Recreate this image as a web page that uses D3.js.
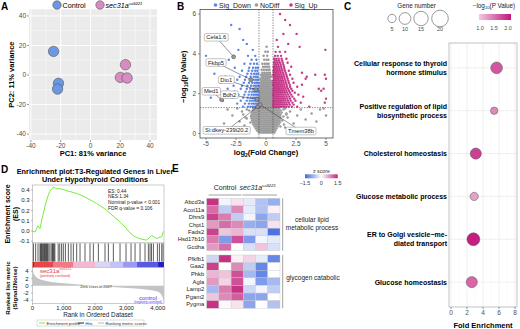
<!DOCTYPE html>
<html><head><meta charset="utf-8">
<script src="https://cdn.jsdelivr.net/npm/d3@7"></script>
<style>body{margin:0;background:#fff}svg{display:block}text{font-family:"Liberation Sans",Arial,sans-serif}</style>
</head><body><svg id="c" width="520" height="329"></svg>
<script>
// ---------------- DATA ----------------
// A: PCA
const pcaControl = [[-24.8,16],[-21.5,-5.6],[-22.1,-9.5]];
const pcaMutant = [[23.5,7],[20.1,-1.6],[24.6,-2]];
const pcaTicks = [-40,-20,0,20,40];
const pcaMinor = [-30,-10,10,30];

// B: volcano (rows: [-log10 p, [log2FC values]])
const grayRows = [
[0.05,[-0.6,-0.45,-0.3,-0.18,-0.06,0.05,0.16,0.28,0.4,0.55,0.7]],
[0.15,[-0.75,-0.6,-0.47,-0.35,-0.22,-0.1,0.02,0.14,0.25,0.37,0.5,0.63,0.78]],
[0.25,[-0.85,-0.7,-0.56,-0.42,-0.3,-0.17,-0.05,0.08,0.2,0.32,0.45,0.58,0.72,0.88]],
[0.35,[-0.95,-0.8,-0.66,-0.52,-0.38,-0.25,-0.12,0.0,0.12,0.25,0.38,0.52,0.66,0.8,0.95,1.2]],
[0.45,[-1.05,-0.9,-0.75,-0.6,-0.46,-0.32,-0.18,-0.05,0.08,0.2,0.33,0.47,0.6,0.75,0.9,1.05,1.5]],
[0.55,[-1.3,-1.1,-0.95,-0.8,-0.66,-0.52,-0.38,-0.24,-0.1,0.03,0.16,0.3,0.43,0.57,0.72,0.86,1.0,1.15]],
[0.65,[-1.15,-1.0,-0.85,-0.7,-0.56,-0.42,-0.28,-0.14,0.0,0.13,0.27,0.4,0.54,0.68,0.82,0.97,1.12,1.35]],
[0.75,[-1.6,-1.2,-1.05,-0.9,-0.75,-0.6,-0.46,-0.32,-0.18,-0.04,0.1,0.23,0.37,0.5,0.64,0.78,0.92,1.07,1.22]],
[0.85,[-1.25,-1.1,-0.95,-0.8,-0.65,-0.5,-0.36,-0.22,-0.08,0.06,0.2,0.33,0.47,0.6,0.74,0.88,1.02,1.17,1.45]],
[0.95,[-1.9,-1.2,-1.05,-0.9,-0.76,-0.62,-0.48,-0.34,-0.2,-0.06,0.08,0.22,0.36,0.49,0.63,0.77,0.91,1.05,1.2,1.7]],
[1.05,[-1.15,-1.0,-0.86,-0.72,-0.58,-0.44,-0.3,-0.16,-0.02,0.12,0.26,0.4,0.54,0.68,0.82,0.96,1.1,1.3]],
[1.15,[-1.4,-1.1,-0.95,-0.8,-0.66,-0.52,-0.38,-0.24,-0.1,0.04,0.18,0.32,0.46,0.6,0.74,0.88,1.02,1.2]],
[1.25,[-1.05,-0.9,-0.75,-0.6,-0.46,-0.32,-0.18,-0.04,0.1,0.24,0.38,0.52,0.66,0.8,0.95,1.1,1.6]],
[1.35,[-0.55,-0.42,-0.3,-0.18,-0.06,0.06,0.18,0.3,0.42,0.54]],
[1.45,[-0.5,-0.38,-0.26,-0.14,-0.02,0.1,0.22,0.34,0.46,0.57]],
[1.55,[-0.56,-0.44,-0.32,-0.2,-0.08,0.04,0.16,0.28,0.4,0.52]],
[1.65,[-0.52,-0.4,-0.28,-0.16,-0.04,0.08,0.2,0.32,0.44,0.55]],
[1.75,[-0.55,-0.42,-0.3,-0.18,-0.06,0.06,0.18,0.3,0.42,0.54]],
[1.85,[-0.5,-0.37,-0.25,-0.13,0.0,0.12,0.24,0.36,0.48]],
[1.95,[-0.54,-0.42,-0.3,-0.18,-0.06,0.06,0.18,0.3,0.42,0.55]],
[2.05,[-0.48,-0.36,-0.24,-0.12,0.0,0.12,0.24,0.36,0.5]],
[2.15,[-0.55,-0.4,-0.28,-0.16,-0.04,0.08,0.2,0.32,0.45]],
[2.25,[-0.46,-0.33,-0.2,-0.08,0.05,0.18,0.3,0.43,0.56]],
[2.35,[-0.52,-0.38,-0.25,-0.12,0.0,0.13,0.26,0.4]],
[2.45,[-0.44,-0.3,-0.17,-0.04,0.1,0.23,0.37,0.52]],
[2.55,[-0.5,-0.35,-0.22,-0.08,0.05,0.2,0.34,0.48]],
[2.65,[-0.4,-0.26,-0.12,0.02,0.16,0.3,0.45]],
[2.75,[-0.46,-0.3,-0.15,0.0,0.15,0.3]],
[2.85,[-0.35,-0.2,-0.05,0.1,0.25,0.42]],
[2.95,[-0.42,-0.25,-0.1,0.05,0.2,0.36]],
[3.05,[-0.3,-0.14,0.02,0.18,0.33]],
[3.2,[-0.36,-0.18,0.0,0.16,0.3]],
[3.35,[-0.25,-0.08,0.1,0.26]],
[3.5,[-0.3,-0.1,0.08,0.22]],
[3.7,[-0.15,0.05,0.2]],
[3.9,[-0.2,0.1]],
[4.1,[-0.05,0.15]],
[4.35,[0.05]]];
const grayExtra = [[-2.5,0.3],[-2.2,0.6],[-2.0,1.1],[-1.8,0.4],[-1.6,1.2],[-1.5,0.2],[-2.8,0.9],[-3.2,1.2],[-3.5,0.5],[-2.4,1.25],[1.6,0.3],[1.8,0.8],[2.0,1.1],[2.3,0.5],[2.6,0.9],[2.9,1.2],[3.3,0.7],[3.8,1.0],[4.5,1.2],[4.2,0.6],[5.0,0.9],[1.45,1.2],[1.7,1.0],[2.2,0.2],[-1.7,0.8],[4.8,1.25]];
const downRows = [
[1.35,[-0.62,-0.72,-0.83,-0.95,-1.1,-1.28,-1.5,-1.9]],
[1.5,[-0.6,-0.68,-0.78,-0.9,-1.03,-1.2,-1.42,-1.75,-2.4]],
[1.65,[-0.63,-0.73,-0.85,-0.98,-1.15,-1.35,-1.6,-2.1,-3.6]],
[1.8,[-0.61,-0.7,-0.8,-0.93,-1.08,-1.27,-1.52,-1.9,-2.8,-4.6]],
[1.95,[-0.65,-0.76,-0.88,-1.02,-1.2,-1.45,-1.8,-2.3]],
[2.1,[-0.62,-0.72,-0.84,-0.98,-1.15,-1.38,-1.7,-2.6,-4.0]],
[2.25,[-0.66,-0.78,-0.92,-1.08,-1.3,-1.6,-2.1,-3.2]],
[2.4,[-0.63,-0.74,-0.87,-1.03,-1.25,-1.55,-2.0,-2.7]],
[2.55,[-0.68,-0.8,-0.95,-1.15,-1.42,-1.85,-3.8]],
[2.7,[-0.64,-0.76,-0.9,-1.1,-1.35,-1.75,-2.4]],
[2.85,[-0.7,-0.84,-1.02,-1.28,-1.65,-2.2,-3.4]],
[3.0,[-0.66,-0.8,-0.98,-1.22,-1.55,-4.3]],
[3.15,[-0.72,-0.9,-1.15,-1.45,-2.0]],
[3.3,[-0.68,-0.85,-1.08,-1.4,-2.6]],
[3.5,[-0.75,-1.0,-1.3,-1.8]],
[3.7,[-0.8,-1.2,-3.1]],
[3.9,[-0.9,-1.5,-5.0]],
[4.2,[-1.1,-2.3]],
[4.5,[-1.6]],
[4.7,[-1.9]],
[5.25,[-2.2]],
[5.45,[-2.9]]];
const upRows = [
[1.35,[0.62,0.72,0.83,0.95,1.07,1.2,1.34,1.5,1.68,1.88,2.15,2.6,3.6]],
[1.45,[0.6,0.68,0.78,0.9,1.01,1.13,1.26,1.41,1.57,1.76,1.98,2.3]],
[1.55,[0.64,0.74,0.86,0.98,1.1,1.23,1.37,1.53,1.71,1.92,2.2,2.9,4.9]],
[1.65,[0.61,0.7,0.8,0.92,1.04,1.17,1.31,1.46,1.63,1.83,2.06,2.45]],
[1.75,[0.65,0.76,0.88,1.0,1.13,1.27,1.42,1.59,1.78,2.0,2.35,5.0]],
[1.85,[0.62,0.72,0.83,0.95,1.08,1.22,1.37,1.53,1.72,1.94,2.2,3.1]],
[1.95,[0.6,0.69,0.79,0.9,1.02,1.15,1.3,1.46,1.64,1.85,2.1,2.7]],
[2.05,[0.64,0.74,0.86,0.98,1.11,1.25,1.4,1.57,1.77,2.0,2.4]],
[2.15,[0.61,0.71,0.82,0.94,1.07,1.21,1.36,1.52,1.7,1.92,2.2,4.6]],
[2.25,[0.65,0.76,0.88,1.0,1.14,1.29,1.45,1.63,1.84,2.1,4.4,4.8]],
[2.35,[0.62,0.72,0.84,0.96,1.09,1.23,1.38,1.55,1.75,2.0,2.6]],
[2.45,[0.6,0.7,0.81,0.93,1.06,1.2,1.35,1.52,1.72,1.98,3.0]],
[2.55,[0.64,0.75,0.87,1.0,1.14,1.3,1.47,1.67,1.9,2.3]],
[2.65,[0.61,0.71,0.83,0.96,1.1,1.25,1.42,1.62,1.86]],
[2.75,[0.66,0.78,0.91,1.05,1.2,1.37,1.56,1.8,2.2,3.3,5.0]],
[2.85,[0.63,0.74,0.87,1.01,1.16,1.33,1.52,1.75,3.4]],
[2.95,[0.6,0.7,0.82,0.96,1.11,1.28,1.47,1.7,2.0,4.1,4.9]],
[3.05,[0.65,0.77,0.9,1.05,1.22,1.41,1.64,3.0]],
[3.15,[0.62,0.73,0.86,1.0,1.17,1.36,1.58,1.9]],
[3.25,[0.67,0.8,0.95,1.12,1.31,1.53]],
[3.35,[0.63,0.75,0.9,1.07,1.26,1.5,2.1]],
[3.45,[0.7,0.85,1.02,1.22,1.45]],
[3.55,[0.66,0.8,0.97,1.17,1.4,1.8]],
[3.65,[0.72,0.9,1.1,1.35]],
[3.75,[0.68,0.85,1.05,1.3,1.7]],
[3.9,[0.75,0.98,1.25]],
[4.1,[0.8,1.15,1.6]],
[4.2,[4.95]],
[4.35,[1.0,2.8]],
[4.5,[1.85]],
[4.7,[0.9]],
[5.0,[1.45,2.55]],
[5.45,[2.0]],
[5.7,[1.6]],
[6.0,[1.17]]];
const volcLabels = [
 {gene:"Cela1.6", fc:-2.7, p:3.85},
 {gene:"Fkbp5", fc:-1.25, p:2.7},
 {gene:"Dio1", fc:-0.85, p:2.2},
 {gene:"Med1", fc:-3.7, p:1.7},
 {gene:"Bdh2", fc:-0.75, p:1.72},
 {gene:"Si:dkey-239i20.2", fc:-0.68, p:1.35},
 {gene:"Tmem38b", fc:-0.5, p:1.45}];
const volcXTicks = [-5,-2.5,0,2.5,5];
const volcYTicks = [0,2,4,6];
const fcCut = 0.585, pCut = 1.3;

// C: GO enrichment
const goTerms = ["Cellular response to thyroid hormone stimulus","Positive regulation of lipid biosynthetic process","Cholesterol homeostasis","Glucose metabolic process","ER to Golgi vesicle-mediated transport","Glucose homeostasis"];
const goLines = [["Cellular response to thyroid","hormone stimulus"],["Positive regulation of lipid","biosynthetic process"],["Cholesterol homeostasis"],["Glucose metabolic process"],["ER to Golgi vesicle\u2212me-","diated transport"],["Glucose homeostasis"]];
const foldEnrich = [5.7,5.4,3.1,2.9,2.8,2.6];
const geneCount = [10,4,9,5,12,9];
const negLogP = [1.7,1.4,1.85,1.25,2.05,1.6];
const sizeLegend = [5,10,15,20];
const pLegendTicks = [1.0,1.5,2.0];
const feTicks = [0,2,4,6,8];

// D: GSEA
const esCurve = [[0,0],[80,-0.01],[176,0.05],[240,0.024],[294,0.107],[351,0.176],[400,0.244],[454,0.302],[505,0.351],[559,0.39],[613,0.41],[665,0.43],[719,0.42],[783,0.41],[847,0.415],[911,0.41],[984,0.405],[1070,0.395],[1198,0.385],[1412,0.366],[1677,0.332],[2051,0.268],[2316,0.215],[2540,0.156],[2796,0.088],[2987,0.03],[3115,-0.02],[3243,-0.05],[3380,-0.07],[3530,-0.083],[3649,-0.088],[3722,-0.068],[3808,-0.044],[3882,-0.059],[3969,-0.073],[4042,-0.063],[4128,-0.056],[4180,-0.007],[4200,0]];
const hitRanks = [30,100,176,240,262,285,310,335,360,385,410,435,454,480,520,560,615,640,665,690,715,820,870,930,985,1050,1145,1230,1305,1411,1518,1677,1837,1944,2104,2316,2423,2583,2796,2987,3147,3275,3435,3594,3700,3754,3800,3861,3989,4053,4128,4170];
const rankMetric = [[0,5],[15,4.2],[40,3.4],[80,2.8],[150,2.2],[250,1.8],[400,1.4],[600,1.1],[900,0.8],[1300,0.5],[1700,0.25],[2027,0],[2400,-0.25],[2900,-0.5],[3400,-0.8],[3800,-1.2],[4000,-1.6],[4100,-2.2],[4150,-3],[4185,-4],[4200,-5]];
const colorBarBreaks = [0,48,655,1294,1997,2476,2892,3339,4010,4200];
const colorBarColors = ["#B81414","#E5474B","#EF7B86","#F2B9D3","#DCD5F1","#C3C3F4","#9A9AF0","#5959E4","#2020C4"];
const esTicks = [-0.1,0.0,0.1,0.2,0.3,0.4];
const rmTicks = [-4,-2,0,2,4];
const rankTicks = [0,1000,2000,3000,4000];
const nRanks = 4200, zeroCross = 2027;
const gseaStats = ["ES: 0.44","NES:1.34","Nominal p-value < 0.001","FDR q-value = 0.106"];

// E: heatmap
const heatGenes1 = ["Abcd3a","Acot11a","Dhrs9","Chpt1","Fads2","Hsd17b10","Gcdha"];
const heatGenes2 = ["Pfkfb1","Gaa2","Phkb","Agla","Lamp2","Pgam2","Pygma"];
const heatZ1 = [
[1.4,-0.1,0.2,-0.2,-0.6,-0.8],
[1.0,-0.5,0.8,-0.2,-0.6,0.1],
[1.3,0.9,-0.5,-0.1,-0.9,-0.5],
[0.7,1.0,0.8,-0.8,-0.9,0.2],
[1.3,0.4,0.5,-0.3,-0.3,-1.4],
[0.9,-1.0,1.2,-1.0,-0.1,-0.2],
[0.7,1.0,0.0,-0.3,0.4,-0.3]];
const heatZ2 = [
[-0.4,1.4,0.1,0.3,-0.2,-1.2],
[1.3,0.0,0.8,-0.5,-1.2,0.0],
[0.5,0.4,1.2,-0.7,-1.2,0.0],
[0.7,0.3,1.2,-0.1,-1.0,-0.7],
[-0.7,0.9,1.4,-0.4,-0.1,-0.5],
[0.4,0.8,1.1,-0.9,-0.9,0.0],
[1.4,0.05,0.2,-0.9,0.0,-0.6]];
const heatSamples = [0,1,2,3,4,5];
const zTicks = [-1.5,0,1.5];

// ---------------- DRAW ----------------
const svg = d3.select('#c');
function T(g,x,y,s,o){const t=g.append('text').attr('x',x).attr('y',y).text(s);if(o)for(const k in o)t.attr(k,o[k]);return t;}
const AX = '#4d4d4d';
const allelSup = 'sa9221';

// Panel letters
[['A',1,10],['B',177,10],['C',344,10],['D',1,173],['E',172,172]].forEach(d=>T(svg,d[1],d[2],d[0],{'font-size':10,'font-weight':'bold'}));

// ===== A =====
{
const g = svg.append('g');
const x = d3.scaleLinear().domain([-41.3,44.7]).range([29,157]);
const y = d3.scaleLinear().domain([-44,44.5]).range([140,9.3]);
const [x0,x1]=x.range(), [y0,y1]=y.range();
g.append('rect').attr('x',x0).attr('y',y1).attr('width',x1-x0).attr('height',y0-y1).attr('fill','#ebebeb');
g.selectAll('.vn').data(pcaMinor).join('line').attr('x1',x).attr('x2',x).attr('y1',y0).attr('y2',y1).attr('stroke','#fff').attr('stroke-width',0.4);
g.selectAll('.hn').data(pcaMinor).join('line').attr('y1',y).attr('y2',y).attr('x1',x0).attr('x2',x1).attr('stroke','#fff').attr('stroke-width',0.4);
g.selectAll('.vm').data(pcaTicks).join('line').attr('x1',x).attr('x2',x).attr('y1',y0).attr('y2',y1).attr('stroke','#fff').attr('stroke-width',0.9);
g.selectAll('.hm').data(pcaTicks).join('line').attr('y1',y).attr('y2',y).attr('x1',x0).attr('x2',x1).attr('stroke','#fff').attr('stroke-width',0.9);
pcaTicks.forEach(t=>{
  g.append('line').attr('x1',x(t)).attr('x2',x(t)).attr('y1',y0).attr('y2',y0+2).attr('stroke','#333').attr('stroke-width',0.5);
  T(g,x(t),y0+8,t,{'font-size':6.5,'fill':AX,'text-anchor':'middle'});
  g.append('line').attr('y1',y(t)).attr('y2',y(t)).attr('x1',x0-2).attr('x2',x0).attr('stroke','#333').attr('stroke-width',0.5);
  T(g,x0-3,y(t)+2.3,t,{'font-size':6.5,'fill':AX,'text-anchor':'end'});
});
T(g,(x0+x1)/2,156,'PC1: 81% variance',{'font-size':7.5,'font-weight':'bold','text-anchor':'middle'});
T(g,0,0,'PC2: 11% variance',{'font-size':7.5,'font-weight':'bold','text-anchor':'middle','transform':`translate(14,${(y0+y1)/2}) rotate(-90)`});
g.selectAll('.pc').data(pcaControl).join('circle').attr('cx',d=>x(d[0])).attr('cy',d=>y(d[1])).attr('r',5.2).attr('fill','#6A97E6').attr('stroke','#555').attr('stroke-width',0.6);
g.selectAll('.pm').data(pcaMutant).join('circle').attr('cx',d=>x(d[0])).attr('cy',d=>y(d[1])).attr('r',5.2).attr('fill','#D98CC3').attr('stroke','#555').attr('stroke-width',0.6);
g.append('circle').attr('cx',57).attr('cy',5).attr('r',4.2).attr('fill','#6A97E6').attr('stroke','#555').attr('stroke-width',0.6);
T(g,62.5,7.7,'Control',{'font-size':7.2});
g.append('circle').attr('cx',100).attr('cy',5).attr('r',4.2).attr('fill','#D98CC3').attr('stroke','#555').attr('stroke-width',0.6);
const t=T(g,105.5,7.7,'sec31a',{'font-size':7.2,'font-style':'italic'});
t.append('tspan').attr('dy',-2.8).attr('font-size',4.2).text(allelSup);
}

// ===== B =====
{
const g = svg.append('g');
const x = d3.scaleLinear().domain([-5.5,5.583]).range([200,333]);
const y = d3.scaleLinear().domain([-0.226,6.226]).range([138,9.5]);
const [x0,x1]=x.range(), [y0,y1]=y.range();
const flat = rows=>rows.flatMap(([p,xs])=>xs.map(f=>[f,p]));
const gray = flat(grayRows).concat(grayExtra.map(d=>[d[0],d[1]]));
const down = flat(downRows), up = flat(upRows);
g.selectAll('.g').data(gray).join('circle').attr('cx',d=>x(d[0])).attr('cy',d=>y(d[1])).attr('r',1.25).attr('fill','#9b9b9b');
g.selectAll('.d').data(down).join('circle').attr('cx',d=>x(d[0])).attr('cy',d=>y(d[1])).attr('r',1.2).attr('fill','#5B84E4');
g.selectAll('.u').data(up).join('circle').attr('cx',d=>x(d[0])).attr('cy',d=>y(d[1])).attr('r',1.2).attr('fill','#C43A88');
[-fcCut,fcCut].forEach(v=>g.append('line').attr('x1',x(v)).attr('x2',x(v)).attr('y1',y0).attr('y2',y1).attr('stroke','#333').attr('stroke-width',0.6).attr('stroke-dasharray','1.3,1.3'));
g.append('line').attr('x1',x0).attr('x2',x1).attr('y1',y(pCut)).attr('y2',y(pCut)).attr('stroke','#333').attr('stroke-width',0.6).attr('stroke-dasharray','1.3,1.3');
// labels
const boxPos = [[216.3,37.3],[216,62.5],[226.3,79.7],[211.3,91.3],[229.5,94.7],[226.7,130.3],[301,131]];
volcLabels.forEach((d,i)=>{
  g.append('line').attr('x1',boxPos[i][0]).attr('y1',boxPos[i][1]).attr('x2',x(d.fc)).attr('y2',y(d.p)).attr('stroke','#333').attr('stroke-width',0.5);
});
volcLabels.forEach((d,i)=>{
  g.append('circle').attr('cx',x(d.fc)).attr('cy',y(d.p)).attr('r',2).attr('fill','#999').attr('stroke','#444').attr('stroke-width',0.5);
});
volcLabels.forEach((d,i)=>{
  const r = g.append('rect');
  const t = T(g,boxPos[i][0],boxPos[i][1]+2,d.gene,{'font-size':5.8,'text-anchor':'middle','fill':'#222'});
  const w = t.node().getComputedTextLength();
  r.attr('x',boxPos[i][0]-w/2-2).attr('y',boxPos[i][1]-3.8).attr('width',w+4).attr('height',7.6).attr('rx',1.5).attr('fill','#fff').attr('stroke','#888').attr('stroke-width',0.5);
});
g.append('rect').attr('x',x0).attr('y',y1).attr('width',x1-x0).attr('height',y0-y1).attr('fill','none').attr('stroke','#333').attr('stroke-width',0.7);
volcXTicks.forEach(t=>{
  g.append('line').attr('x1',x(t)).attr('x2',x(t)).attr('y1',y0).attr('y2',y0+2).attr('stroke','#333').attr('stroke-width',0.5);
  T(g,x(t),y0+8,t,{'font-size':6.5,'fill':AX,'text-anchor':'middle'});
});
volcYTicks.forEach(t=>{
  g.append('line').attr('y1',y(t)).attr('y2',y(t)).attr('x1',x0-2).attr('x2',x0).attr('stroke','#333').attr('stroke-width',0.5);
  T(g,x0-4,y(t)+2.3,t,{'font-size':6.5,'fill':AX,'text-anchor':'end'});
});
const xt=T(g,x(0),155,'log',{'font-size':7.5,'font-weight':'bold','text-anchor':'middle'});
xt.append('tspan').attr('dy',2).attr('font-size',5).text('2');
xt.append('tspan').attr('dy',-2).text('(Fold Change)');
const yt=T(g,0,0,'\u2212log',{'font-size':7.5,'font-weight':'bold','text-anchor':'middle','transform':`translate(186,${(y0+y1)/2+3}) rotate(-90)`});
yt.append('tspan').attr('dy',2).attr('font-size',5).text('10');
yt.append('tspan').attr('dy',-2).text('(p Value)');
// legend
[['Sig_Down','#5B84E4',215.5],['NoDiff','#9b9b9b',256.5],['Sig_Up','#C43A88',291]].forEach(d=>{
  g.append('circle').attr('cx',d[2]).attr('cy',5).attr('r',1.8).attr('fill',d[1]);
  T(g,d[2]+3.5,7.6,d[0],{'font-size':7,'fill':'#222'});
});
}

// ===== C =====
{
const g = svg.append('g');
const x = d3.scaleLinear().domain([-0.25,8.25]).range([449,517]);
const y = d3.scalePoint().domain(goTerms).range([43,307]).padding(0.58);
const [x0,x1]=x.range(), [y1,y0]=y.range();
const r = d3.scaleSqrt().domain([0,20]).range([0,8.3]);
const col = d3.scaleLinear().domain([1.0,2.1]).range(['#F3C8E0','#C0177B']).clamp(true);
g.append('rect').attr('x',x0).attr('y',y1).attr('width',x1-x0).attr('height',y0-y1).attr('fill','#fff');
[1,3,5,7].forEach(t=>g.append('line').attr('x1',x(t)).attr('x2',x(t)).attr('y1',y0).attr('y2',y1).attr('stroke','#f2f2f2').attr('stroke-width',0.4));
feTicks.forEach(t=>g.append('line').attr('x1',x(t)).attr('x2',x(t)).attr('y1',y0).attr('y2',y1).attr('stroke','#e6e6e6').attr('stroke-width',0.6));
goTerms.forEach(t=>g.append('line').attr('x1',x0).attr('x2',x1).attr('y1',y(t)).attr('y2',y(t)).attr('stroke','#e6e6e6').attr('stroke-width',0.6));
g.append('rect').attr('x',x0).attr('y',y1).attr('width',x1-x0).attr('height',y0-y1).attr('fill','none').attr('stroke','#9a9a9a').attr('stroke-width',0.6);
goTerms.forEach((t,i)=>{
  g.append('circle').attr('cx',x(foldEnrich[i])).attr('cy',y(t)).attr('r',r(geneCount[i])).attr('fill',col(negLogP[i])).attr('stroke','#555').attr('stroke-width',0.5);
  const L=goLines[i];
  L.forEach((s,j)=>T(g,x0-2,y(t)+2.5+(j-(L.length-1)/2)*8.6,s,{'font-size':7,'font-weight':'bold','text-anchor':'end'}));
});
feTicks.forEach(t=>{
  g.append('line').attr('x1',x(t)).attr('x2',x(t)).attr('y1',y0).attr('y2',y0+2).attr('stroke','#333').attr('stroke-width',0.5);
  T(g,x(t),y0+8,t,{'font-size':6.5,'fill':AX,'text-anchor':'middle'});
});
T(g,(x0+x1)/2,327.5,'Fold Enrichment',{'font-size':7.5,'font-weight':'bold','text-anchor':'middle'});
// size legend
T(g,416.5,7.5,'Gene number',{'font-size':6.3,'text-anchor':'middle','fill':'#222'});
const lx=[392,405,421,440];
sizeLegend.forEach((s,i)=>{
  g.append('circle').attr('cx',lx[i]).attr('cy',18.5).attr('r',r(s)).attr('fill','#fff').attr('stroke','#555').attr('stroke-width',0.6);
  T(g,lx[i],31,s,{'font-size':5.5,'text-anchor':'middle','fill':AX});
});
// color legend
const pl=T(g,494,7.5,'\u2212log',{'font-size':6.3,'text-anchor':'middle','fill':'#222'});
pl.append('tspan').attr('dy',1.6).attr('font-size',4.2).text('10');
pl.append('tspan').attr('dy',-1.6).text('(P Value)');
const px = d3.scaleLinear().domain([1.0,2.0]).range([480,508]);
const grad = svg.append('defs').append('linearGradient').attr('id','gp');
grad.append('stop').attr('offset','0%').attr('stop-color',col(px.invert(479)));
grad.append('stop').attr('offset','100%').attr('stop-color',col(px.invert(511)));
g.append('rect').attr('x',479).attr('y',14).attr('width',32).attr('height',6).attr('fill','url(#gp)');
pLegendTicks.forEach(t=>T(g,px(t),29.5,t.toFixed(1),{'font-size':5.5,'text-anchor':'middle','fill':AX}));
}

// ===== D =====
{
const g = svg.append('g');
const x = d3.scaleLinear().domain([0,nRanks]).range([32.5,164]);
const yE = d3.scaleLinear().domain([-0.117,0.449]).range([243,185]);
const yR = d3.scaleLinear().domain([-4.9,5.1]).range([303.5,267.5]);
const [x0,x1]=x.range();
T(g,95,174,'Enrichment plot:T3-Regulated Genes in Liver',{'font-size':7.3,'font-weight':'bold','text-anchor':'middle'});
T(g,95,182,'Under Hypothyroid Conditions',{'font-size':7.3,'font-weight':'bold','text-anchor':'middle'});
// ES panel
g.append('rect').attr('x',x0).attr('y',185).attr('width',x1-x0).attr('height',58).attr('fill','#fff').attr('stroke','#999').attr('stroke-width',0.5);
g.append('path').datum(esCurve).attr('d',d3.line().x(d=>x(d[0])).y(d=>yE(d[1]))).attr('fill','none').attr('stroke','#78EE3C').attr('stroke-width',1);
esTicks.forEach(t=>{
  g.append('line').attr('x1',x0-1.5).attr('x2',x0).attr('y1',yE(t)).attr('y2',yE(t)).attr('stroke','#555').attr('stroke-width',0.4);
  T(g,x0-3,yE(t)+2,t.toFixed(1),{'font-size':6,'text-anchor':'end','fill':'#222'});
});
gseaStats.forEach((s,i)=>T(g,108,192.5+i*5.8,s,{'font-size':4.8,'fill':'#222'}));
// hits
g.append('rect').attr('x',x0).attr('y',243).attr('width',x1-x0).attr('height',19).attr('fill','#fff').attr('stroke','#999').attr('stroke-width',0.5);
g.selectAll('.hit').data(hitRanks).join('line').attr('x1',d=>x(d)).attr('x2',d=>x(d)).attr('y1',243.5).attr('y2',261.5).attr('stroke','#111').attr('stroke-width',0.8).attr('stroke-opacity',0.85);
// color bar
colorBarColors.forEach((c,i)=>g.append('rect').attr('x',x(colorBarBreaks[i])).attr('y',262).attr('width',x(colorBarBreaks[i+1])-x(colorBarBreaks[i])).attr('height',5.5).attr('fill',c));
// ranked metric
g.append('rect').attr('x',x0).attr('y',267.5).attr('width',x1-x0).attr('height',36).attr('fill','#fff').attr('stroke','#999').attr('stroke-width',0.5);
g.append('path').datum(rankMetric).attr('d',d3.area().x(d=>x(d[0])).y0(yR(0)).y1(d=>yR(d[1]))).attr('fill','#c4c4c4');
rmTicks.forEach(t=>{
  g.append('line').attr('x1',x0-1.5).attr('x2',x0).attr('y1',yR(t)).attr('y2',yR(t)).attr('stroke','#555').attr('stroke-width',0.4);
  T(g,x0-4,yR(t)+2,t,{'font-size':6,'text-anchor':'end','fill':'#222'});
});
const st=T(g,40,272.5,'sec31a',{'font-size':6,'fill':'#E23A3A'});
st.append('tspan').attr('dy',-2.2).attr('font-size',3.6).text(allelSup);
T(g,40,276.5,'(positively correlated)',{'font-size':3.2,'fill':'#E23A3A'});
T(g,x(zeroCross),288,'Zero cross at '+zeroCross,{'font-size':3.8,'text-anchor':'middle','fill':'#333'});
T(g,148,300,'control',{'font-size':6,'text-anchor':'middle','fill':'#3B3BEF'});
T(g,148,302.8,'(negatively correlated)',{'font-size':2.8,'text-anchor':'middle','fill':'#3B3BEF'});
rankTicks.forEach(t=>{
  g.append('line').attr('x1',x(t)).attr('x2',x(t)).attr('y1',303.5).attr('y2',305).attr('stroke','#555').attr('stroke-width',0.4);
  T(g,x(t),309.5,d3.format(',')(t),{'font-size':6,'text-anchor':'middle','fill':'#222'});
});
T(g,98,316.5,'Rank in Ordered Dataset',{'font-size':6.3,'text-anchor':'middle','fill':'#222'});
// y titles
T(g,0,0,'Enrichment score',{'font-size':7,'font-weight':'bold','text-anchor':'middle','transform':'translate(9.5,214) rotate(-90)'});
T(g,0,0,'(ES)',{'font-size':7,'font-weight':'bold','text-anchor':'middle','transform':'translate(17.5,214) rotate(-90)'});
T(g,0,0,'Ranked list metric',{'font-size':6.2,'font-weight':'bold','text-anchor':'middle','transform':'translate(9.5,288) rotate(-90)'});
T(g,0,0,'(Signal2Noise)',{'font-size':6.2,'font-weight':'bold','text-anchor':'middle','transform':'translate(17,288) rotate(-90)'});
// legend
g.append('rect').attr('x',37).attr('y',320).attr('width',107).attr('height',6).attr('fill','#fff').attr('stroke','#aaa').attr('stroke-width',0.4);
[['Enrichment profile','#78EE3C',39],['Hits','#222',78],['Ranking metric scores','#bbb',98]].forEach(d=>{
  g.append('line').attr('x1',d[2]).attr('x2',d[2]+6).attr('y1',323).attr('y2',323).attr('stroke',d[1]).attr('stroke-width',1);
  T(g,d[2]+7.5,324.6,d[0],{'font-size':4.2,'fill':'#333'});
});
}

// ===== E =====
{
const g = svg.append('g');
const x = d3.scaleBand().domain(heatSamples).range([206.7,280]);
const y1 = d3.scaleBand().domain(heatGenes1).range([198.3,250.7]);
const y2 = d3.scaleBand().domain(heatGenes2).range([255,308.3]);
const col = d3.scaleLinear().domain([-1.5,0,1.5]).range(['#3F69DE','#FFFFFF','#C2247C']).clamp(true);
function block(genes, Z, y){
  genes.forEach((gname,i)=>{
    heatSamples.forEach(j=>g.append('rect').attr('x',x(j)).attr('y',y(gname)).attr('width',x.bandwidth()).attr('height',y.bandwidth()).attr('fill',col(Z[i][j])).attr('stroke','#c8c8c8').attr('stroke-width',0.4));
    T(g,x.range()[0]-2.5,y(gname)+y.bandwidth()/2+2,gname,{'font-size':5.8,'text-anchor':'end','fill':'#222'});
  });
  g.append('line').attr('x1',282.7).attr('x2',282.7).attr('y1',y.range()[0]).attr('y2',y.range()[1]).attr('stroke','#888').attr('stroke-width',0.8);
}
block(heatGenes1,heatZ1,y1);
block(heatGenes2,heatZ2,y2);
T(g,(x(0)+x(2)+x.bandwidth())/2,190,'Control',{'font-size':7,'text-anchor':'middle','fill':'#222'});
g.append('line').attr('x1',x(0)+2).attr('x2',x(2)+x.bandwidth()-2).attr('y1',195).attr('y2',195).attr('stroke','#888').attr('stroke-width',0.8);
const mt=T(g,(x(3)+x(5)+x.bandwidth())/2-4,190,'sec31a',{'font-size':7,'font-style':'italic','text-anchor':'middle','fill':'#222'});
mt.append('tspan').attr('dy',-2.8).attr('font-size',4.2).text(allelSup);
g.append('line').attr('x1',x(3)-1).attr('x2',x(5)+x.bandwidth()-3).attr('y1',195).attr('y2',195).attr('stroke','#888').attr('stroke-width',0.8);
T(g,312,222,'cellular lipid',{'font-size':6.5,'text-anchor':'middle','fill':'#222'});
T(g,312,229.5,'metabolic process',{'font-size':6.5,'text-anchor':'middle','fill':'#222'});
T(g,313,280,'glycogen catabolic',{'font-size':6.5,'text-anchor':'middle','fill':'#222'});
// z legend
const zx = d3.scaleLinear().domain([-1.5,1.5]).range([305,337.7]);
T(g,321.5,172.5,'z score',{'font-size':5.3,'text-anchor':'middle','fill':'#333'});
const gr = svg.select('defs').append('linearGradient').attr('id','gz');
zTicks.forEach((t,i)=>gr.append('stop').attr('offset',(i*50)+'%').attr('stop-color',col(t)));
g.append('rect').attr('x',zx(-1.5)).attr('y',174.3).attr('width',zx(1.5)-zx(-1.5)).attr('height',4).attr('fill','url(#gz)');
zTicks.forEach(t=>T(g,zx(t),184.5,t===0?'0':d3.format('.1f')(t).replace('-','\u2212'),{'font-size':5.3,'text-anchor':'middle','fill':'#333'}));
}
</script></body></html>
